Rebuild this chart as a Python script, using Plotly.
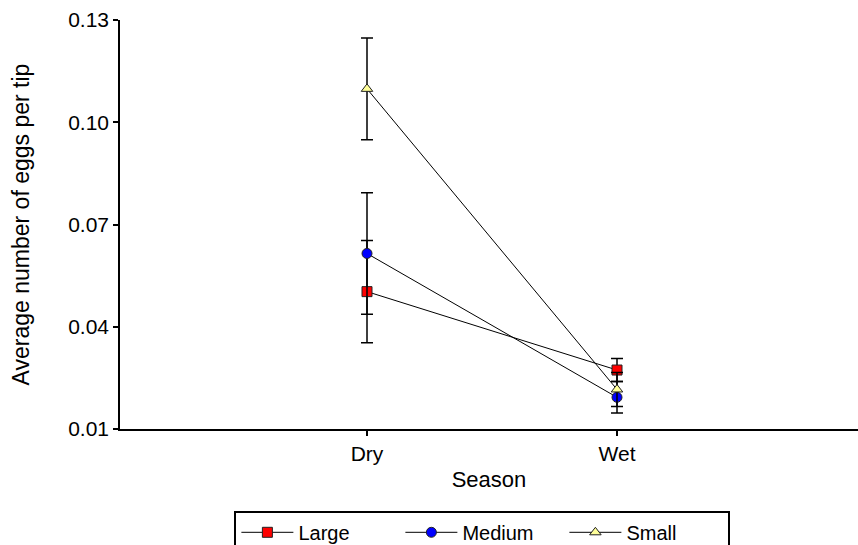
import plotly.graph_objects as go

# Egg counts per tip by season and size class
seasons = ["Dry", "Wet"]
season_pos = [1, 2]

large_mean = [0.0503, 0.0273]
large_err = [0.0150, 0.0034]

medium_mean = [0.0615, 0.0193]
medium_err = [0.0178, 0.0046]

small_mean = [0.1098, 0.0216]
small_err = [0.0149, 0.0050]

y_ticks = [0.01, 0.04, 0.07, 0.10, 0.13]

FONT = "Arial, Liberation Sans, sans-serif"

series = [
    ("Large", large_mean, large_err, "square", "#FF0000"),
    ("Medium", medium_mean, medium_err, "circle", "#0000FF"),
    ("Small", small_mean, small_err, "triangle-up", "#FFFF99"),
]

fig = go.Figure()
for name, mean, err, symbol, color in series:
    fig.add_trace(go.Scatter(
        x=season_pos, y=mean, name=name, mode="lines+markers",
        line=dict(color="black", width=1),
        marker=dict(symbol=symbol, size=10, color=color,
                    line=dict(color="#222222", width=1)),
        error_y=dict(type="data", array=err, visible=True,
                     color="black", thickness=1.5, width=6),
    ))

fig.update_layout(
    width=858, height=545,
    margin=dict(l=120, r=0, t=20, b=116, autoexpand=False),
    paper_bgcolor="white", plot_bgcolor="white",
    font=dict(family=FONT, size=21, color="black"),
    showlegend=True,
    legend=dict(
        orientation="h", x=0.155, xanchor="left", y=-0.2, yanchor="top",
        bordercolor="black", borderwidth=2, bgcolor="white",
        font=dict(family=FONT, size=20, color="black"),
        itemwidth=52, traceorder="normal",
        entrywidth=97, entrywidthmode="pixels",
    ),
)

fig.update_xaxes(
    range=[0.012, 2.964], tickvals=season_pos, ticktext=seasons,
    showline=True, linecolor="black", linewidth=1.5,
    ticks="outside", ticklen=5, tickcolor="black", tickwidth=1.5,
    showgrid=False, zeroline=False,
    tickfont=dict(size=21),
    title=dict(text="Season", font=dict(size=22), standoff=8),
)
fig.update_yaxes(
    range=[0.01, 0.13], tickvals=y_ticks, tickformat=".2f",
    showline=True, linecolor="black", linewidth=1.5,
    ticks="outside", ticklen=5, tickcolor="black", tickwidth=1.5,
    showgrid=False, zeroline=False,
    tickfont=dict(size=21),
    title=dict(text="Average number of eggs per tip", font=dict(size=23), standoff=32),
)

fig.write_html("out.html")
